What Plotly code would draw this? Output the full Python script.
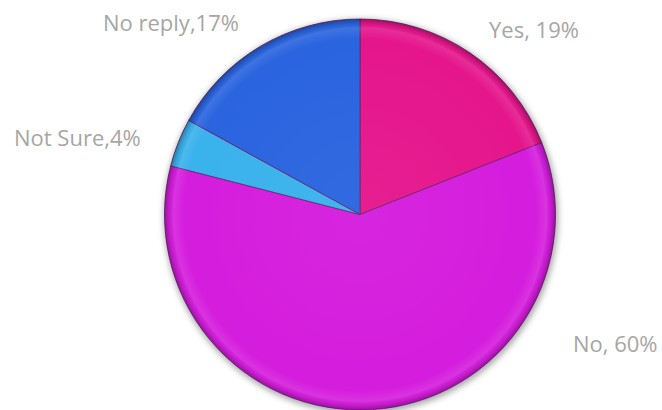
import base64
import plotly.graph_objects as go

# Survey answers and their shares (%)
answers = ["Yes", "No", "Not Sure", "No reply"]
shares = [19, 60, 4, 17]
slice_colors = ["#e5168c", "#d51ddd", "#3ab2ec", "#2a64df"]
label_sep = [", ", ", ", ",", ","]

W, H = 662, 410
cx, top = 360, 19
radius = (H - top) / 2
cy = top + radius


def svg_uri(svg):
    return "data:image/svg+xml;base64," + base64.b64encode(svg.encode()).decode()


# soft drop shadow under the pie
shadow_svg = f"""<svg xmlns='http://www.w3.org/2000/svg' width='{W}' height='{H}' viewBox='0 0 {W} {H}'>
<defs><filter id='b' x='-20%' y='-20%' width='140%' height='140%'><feGaussianBlur stdDeviation='3'/></filter></defs>
<circle cx='{cx + 1}' cy='{cy + 2}' r='{radius + 1.5}' fill='rgba(0,0,0,0.35)' filter='url(#b)'/>
</svg>"""

# bevelled rim: darker edge with a light band just inside it
bevel_svg = f"""<svg xmlns='http://www.w3.org/2000/svg' width='{W}' height='{H}' viewBox='0 0 {W} {H}'>
<defs>
<radialGradient id='g' cx='{cx}' cy='{cy}' r='{radius}' gradientUnits='userSpaceOnUse'>
<stop offset='0' stop-color='white' stop-opacity='0.04'/>
<stop offset='0.9' stop-color='white' stop-opacity='0'/>
<stop offset='0.955' stop-color='white' stop-opacity='0.10'/>
<stop offset='0.975' stop-color='black' stop-opacity='0.05'/>
<stop offset='1' stop-color='black' stop-opacity='0.30'/>
</radialGradient>
</defs>
<circle cx='{cx}' cy='{cy}' r='{radius}' fill='url(#g)'/>
</svg>"""

fig = go.Figure(
    go.Pie(
        labels=answers,
        values=shares,
        sort=False,
        direction="clockwise",
        rotation=0,
        textinfo="none",
        hoverinfo="label+percent",
        marker=dict(colors=slice_colors, line=dict(color="#6a1f70", width=0.8)),
        domain=dict(x=[(cx - radius) / W, (cx + radius) / W], y=[0, (H - top) / H]),
        showlegend=False,
    )
)

fig.add_layout_image(
    source=svg_uri(shadow_svg), xref="paper", yref="paper", x=0, y=1,
    sizex=1, sizey=1, sizing="stretch", xanchor="left", yanchor="top", layer="below",
)
fig.add_layout_image(
    source=svg_uri(bevel_svg), xref="paper", yref="paper", x=0, y=1,
    sizex=1, sizey=1, sizing="stretch", xanchor="left", yanchor="top", layer="above",
)

# Outside labels "<answer>, <share>%"
label_xy = [(534, 29), (615, 343), (77, 137), (171, 22)]
for name, val, sep, (lx, ly) in zip(answers, shares, label_sep, label_xy):
    fig.add_annotation(
        x=lx / W, y=1 - ly / H, xref="paper", yref="paper",
        text=f"{name}{sep}{val}%", showarrow=False,
        font=dict(family="Open Sans, sans-serif", size=22, color="#a6a6a6"),
        xanchor="center", yanchor="middle",
    )

fig.update_layout(
    width=W, height=H,
    margin=dict(l=0, r=0, t=0, b=0),
    paper_bgcolor="white",
    plot_bgcolor="rgba(0,0,0,0)",
)

fig.write_html("out.html")
